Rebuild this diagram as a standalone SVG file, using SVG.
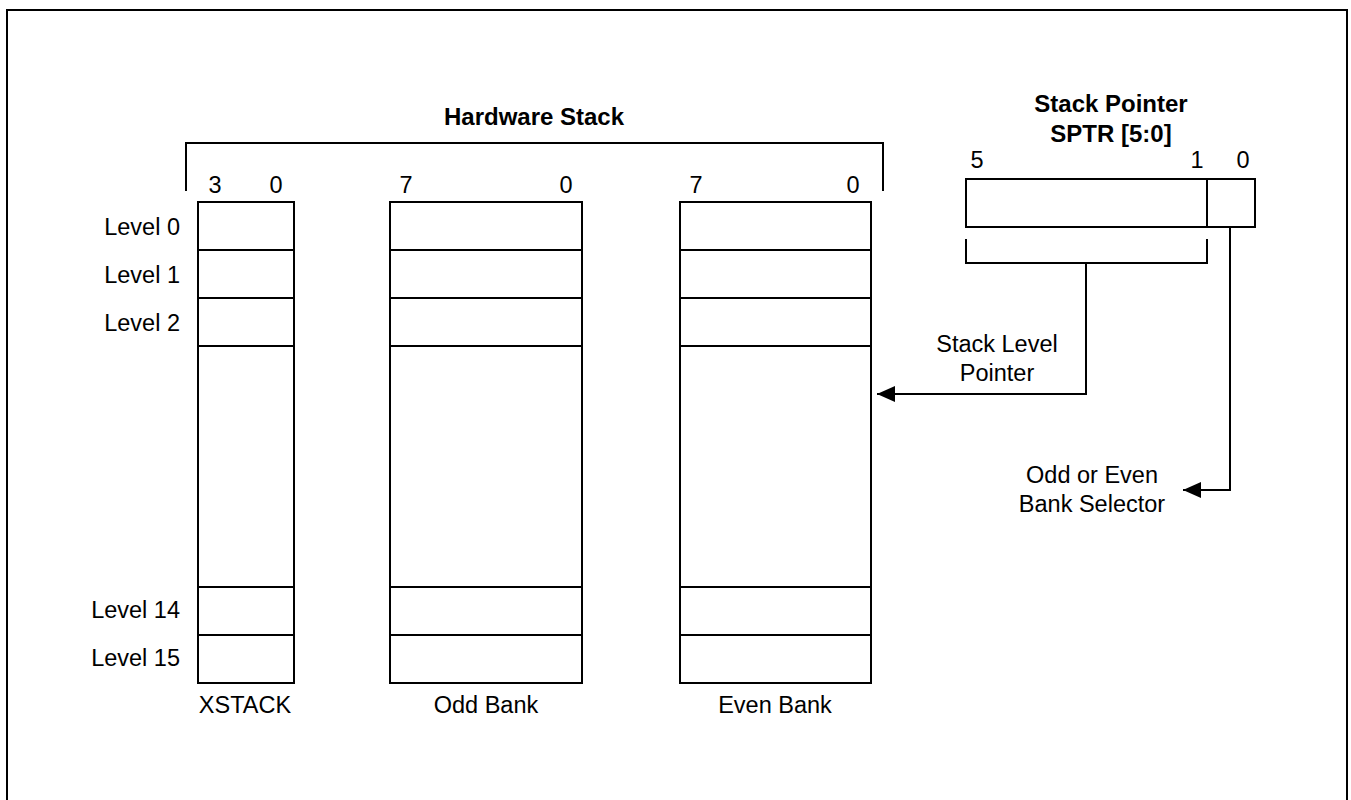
<svg xmlns="http://www.w3.org/2000/svg" width="1351" height="800" viewBox="0 0 1351 800">
<defs>
<style>
.ln{fill:none;stroke:#000;stroke-width:2}
.t{font-family:"Liberation Sans",Arial,sans-serif;font-size:23.5px;fill:#000}
.b{font-family:"Liberation Sans",Arial,sans-serif;font-size:24px;font-weight:bold;fill:#000}
.r{text-anchor:end}
.m{text-anchor:middle}
</style>
<marker id="ah" markerWidth="18" markerHeight="16" refX="18" refY="8" orient="auto" markerUnits="userSpaceOnUse">
<path d="M0,0 L18,8 L0,16 Z" fill="#000"/>
</marker>
</defs>
<rect x="0" y="0" width="1351" height="800" fill="#fff"/>
<path class="ln" d="M7,800 V10 H1347 V800"/>

<g id="hardware-stack-bracket">
<path class="ln" d="M186,191 V143 H883 V191"/>
<text class="b m" x="534" y="125">Hardware Stack</text>
</g>

<g id="level-labels">
<text class="t r" x="180" y="235">Level 0</text>
<text class="t r" x="180" y="283">Level 1</text>
<text class="t r" x="180" y="331">Level 2</text>
<text class="t r" x="180" y="618">Level 14</text>
<text class="t r" x="180" y="666">Level 15</text>
</g>

<g id="xstack">
<rect class="ln" x="198" y="202" width="96" height="481"/>
<path class="ln" d="M198,250 H294 M198,298 H294 M198,346 H294 M198,587 H294 M198,635 H294"/>
<text class="t m" x="215" y="193">3</text>
<text class="t m" x="276" y="193">0</text>
<text class="t m" x="245" y="713">XSTACK</text>
</g>

<g id="odd-bank">
<rect class="ln" x="390" y="202" width="192" height="481"/>
<path class="ln" d="M390,250 H582 M390,298 H582 M390,346 H582 M390,587 H582 M390,635 H582"/>
<text class="t m" x="406" y="193">7</text>
<text class="t m" x="566" y="193">0</text>
<text class="t m" x="486" y="713">Odd Bank</text>
</g>

<g id="even-bank">
<rect class="ln" x="680" y="202" width="191" height="481"/>
<path class="ln" d="M680,250 H871 M680,298 H871 M680,346 H871 M680,587 H871 M680,635 H871"/>
<text class="t m" x="696" y="193">7</text>
<text class="t m" x="853" y="193">0</text>
<text class="t m" x="775" y="713">Even Bank</text>
</g>

<g id="stack-pointer">
<text class="b m" x="1111" y="112">Stack Pointer</text>
<text class="b m" x="1111" y="142">SPTR [5:0]</text>
<rect class="ln" x="966" y="179" width="289" height="48"/>
<path class="ln" d="M1207,179 V227"/>
<text class="t m" x="977" y="168">5</text>
<text class="t m" x="1197" y="168">1</text>
<text class="t m" x="1243" y="168">0</text>
<path class="ln" d="M966,239 V263 H1207 V239"/>
</g>

<g id="connectors">
<path class="ln" d="M1086,263 V394 H877" marker-end="url(#ah)"/>
<path class="ln" d="M1230,227 V490 H1183" marker-end="url(#ah)"/>
</g>

<g id="connector-labels">
<text class="t m" x="997" y="352">Stack Level</text>
<text class="t m" x="997" y="381">Pointer</text>
<text class="t m" x="1092" y="483">Odd or Even</text>
<text class="t m" x="1092" y="512">Bank Selector</text>
</g>
</svg>
